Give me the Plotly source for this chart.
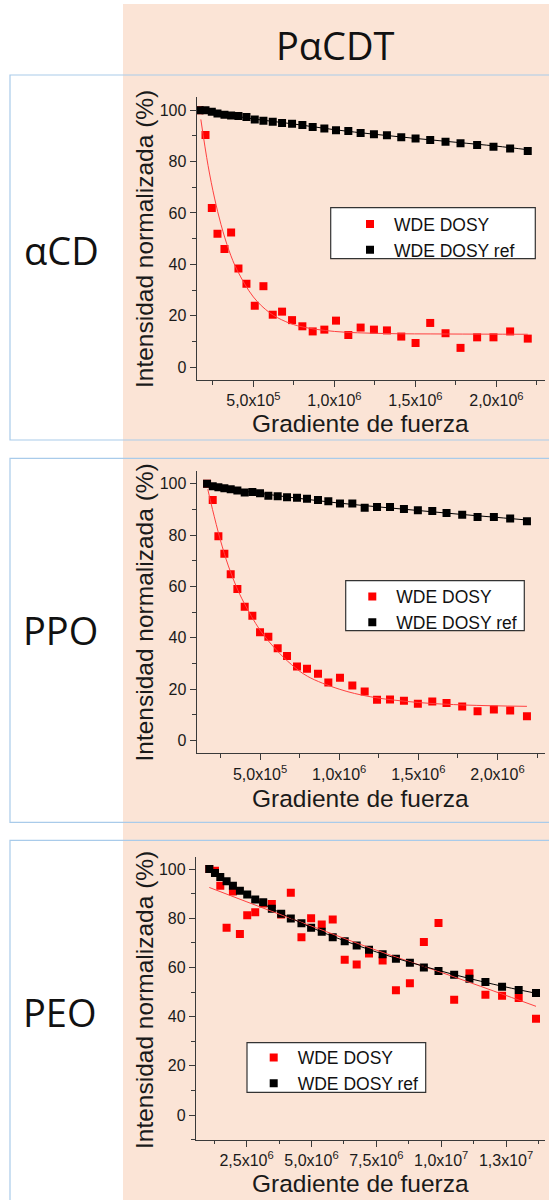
import plotly.graph_objects as go

# ---------------- DATA ----------------
panel_labels = ["αCD", "PPO", "PEO"]
main_title = "PαCDT"
series_names = ["WDE DOSY", "WDE DOSY ref"]
x_title = "Gradiente de fuerza"
y_title = "Intensidad normalizada (%)"

# Panel 1 (αCD)
x1 = [1.673e5, 2.043e5, 2.433e5, 2.783e5, 3.214e5, 3.625e5, 4.077e5, 4.571e5, 5.084e5, 5.619e5,
      6.194e5, 6.769e5, 7.386e5, 8.023e5, 8.660e5, 9.379e5, 1.0099e6, 1.0859e6, 1.1619e6, 1.2441e6,
      1.3243e6, 1.4127e6, 1.501e6, 1.5914e6, 1.686e6, 1.7785e6, 1.881e6, 1.982e6, 2.0847e6, 2.1936e6]
red1 = [100, 90.3, 61.9, 51.9, 46.0, 52.4, 38.4, 32.5, 23.9, 31.5,
        20.4, 21.6, 18.3, 15.9, 13.9, 14.6, 18.1, 12.5, 15.4, 14.6,
        14.3, 11.9, 9.4, 17.2, 13.2, 7.5, 11.6, 11.6, 13.9, 11.1]
black1 = [100, 100.0, 99.4, 98.7, 98.2, 97.9, 97.7, 97.3, 96.4, 95.9,
          95.5, 95.0, 94.7, 94.2, 93.4, 92.9, 92.2, 91.9, 91.1, 90.6,
          90.2, 89.5, 89.0, 88.4, 87.7, 87.1, 86.4, 85.8, 85.1, 84.1]
fit_red1_x = [1.755e5, 2.2e5, 2.6e5, 3.0e5, 3.5e5, 4.0e5, 5.0e5, 6.0e5, 7.0e5, 8.0e5, 1.0e6, 1.3e6, 1.7e6, 2.1936e6]
fit_red1_y = [96.4, 78.5, 65.8, 55.5, 45.3, 37.7, 27.3, 21.2, 17.7, 15.7, 13.9, 13.1, 12.9, 12.8]
fit_black1_x = [1.673e5, 3.0e5, 5.0e5, 7.5e5, 1.0e6, 1.25e6, 1.5e6, 1.75e6, 2.0e6, 2.1936e6]
fit_black1_y = [100.1, 98.6, 96.6, 94.6, 92.4, 90.6, 89.0, 87.5, 86.0, 84.6]

# Panel 2 (PPO)
x2 = [1.654e5, 2.012e5, 2.37e5, 2.748e5, 3.148e5, 3.569e5, 4.032e5, 4.516e5, 5.0e5, 5.526e5,
      6.115e5, 6.705e5, 7.336e5, 7.967e5, 8.662e5, 9.314e5, 1.005e6, 1.083e6, 1.161e6, 1.239e6,
      1.321e6, 1.409e6, 1.497e6, 1.588e6, 1.678e6, 1.777e6, 1.874e6, 1.977e6, 2.080e6, 2.186e6]
red2 = [100, 93.7, 79.6, 72.8, 64.8, 59.0, 52.1, 48.6, 42.2, 40.4,
        35.9, 32.9, 28.8, 27.9, 26.0, 22.6, 24.4, 21.4, 19.1, 15.9,
        16.0, 15.5, 14.3, 15.2, 14.6, 13.2, 11.4, 12.1, 11.7, 9.4]
black2 = [100, 99.1, 98.7, 98.3, 97.9, 97.4, 96.6, 96.8, 96.3, 95.4,
          95.2, 94.8, 94.6, 94.2, 93.7, 93.2, 92.3, 92.3, 90.7, 91.0,
          91.0, 90.2, 89.7, 89.4, 88.6, 88.0, 87.1, 87.1, 86.5, 85.4]
fit_red2_x = [1.7e5, 2.0e5, 2.5e5, 3.0e5, 3.5e5, 4.0e5, 5.0e5, 6.0e5, 7.0e5, 8.0e5, 1.0e6, 1.2e6, 1.5e6, 1.8e6, 2.186e6]
fit_red2_y = [97.9, 90.0, 78.0, 68.0, 60.0, 53.5, 43.0, 35.5, 29.5, 25.0, 20.0, 17.0, 14.8, 13.8, 13.3]
fit_black2_x = [1.654e5, 3.0e5, 5.0e5, 7.5e5, 1.0e6, 1.25e6, 1.5e6, 1.75e6, 2.0e6, 2.186e6]
fit_black2_y = [99.3, 98.0, 96.3, 94.3, 92.5, 91.0, 89.6, 88.2, 86.9, 85.9]

# Panel 3 (PEO)
x3 = [1.063e6, 1.281e6, 1.486e6, 1.729e6, 1.973e6, 2.242e6, 2.524e6, 2.832e6, 3.14e6, 3.473e6,
      3.832e6, 4.204e6, 4.614e6, 4.986e6, 5.396e6, 5.819e6, 6.281e6, 6.742e6, 7.217e6, 7.742e6,
      8.255e6, 8.793e6, 9.332e6, 9.896e6, 1.0499e7, 1.1088e7, 1.1704e7, 1.2345e7, 1.2986e7, 1.3653e7]
red3 = [100, 99.3, 93.2, 76.1, 90.9, 73.6, 81.2, 82.4, 86.0, 85.8,
        81.5, 90.3, 72.3, 80.0, 77.4, 79.5, 63.1, 61.2, 65.7, 62.8,
        50.7, 53.6, 70.3, 78.1, 46.9, 57.6, 48.9, 48.5, 47.6, 39.2]
black3 = [100, 98.4, 96.8, 95.0, 93.2, 91.2, 89.6, 87.6, 86.5, 83.8,
          81.8, 79.9, 78.0, 76.1, 74.5, 72.3, 70.6, 68.9, 67.2, 65.4,
          63.5, 61.9, 60.0, 58.6, 57.0, 55.4, 54.1, 52.2, 50.8, 49.6]
fit_red3_x = [1.063e6, 3.47e6, 5.0e6, 7.5e6, 1.0e7, 1.2e7, 1.3653e7]
fit_red3_y = [92.5, 82.8, 76.8, 67.0, 58.0, 50.5, 44.2]
fit_black3_x = [1.063e6, 2.5e6, 5.0e6, 7.5e6, 1.0e7, 1.2e7, 1.3653e7]
fit_black3_y = [99.8, 89.6, 76.2, 66.3, 58.5, 53.2, 49.5]

# Tick labels
xt12_vals = [5e5, 1.0e6, 1.5e6, 2.0e6]
xt12_text = ["5,0x10<sup>5</sup>", "1,0x10<sup>6</sup>", "1,5x10<sup>6</sup>", "2,0x10<sup>6</sup>"]
xt3_vals = [2.5e6, 5.0e6, 7.5e6, 1.0e7, 1.25e7]
xt3_text = ["2,5x10<sup>6</sup>", "5,0x10<sup>6</sup>", "7,5x10<sup>6</sup>", "1,0x10<sup>7</sup>", "1,3x10<sup>7</sup>"]
yt_vals = [0, 20, 40, 60, 80, 100]
yt_text = ["0", "20", "40", "60", "80", "100"]

# ---------------- LAYOUT HELPERS ----------------
W, H = 549, 1200
def px(x):
    return x / W
def py(y):
    return 1 - y / H

AX = "#3a3a3a"
TXT = "#1a1a1a"
FONT = "Liberation Sans, Arial, sans-serif"
RED = "#ff0000"
REDFIT = "#ff4040"
PEACH = "#fbe4d6"
BLUE = "#a9cbea"
LEGSIZE = 17.5

panels = [
    dict(x=x1, red=red1, black=black1, frx=fit_red1_x, fry=fit_red1_y, fbx=fit_black1_x, fby=fit_black1_y,
         plot=(196.7, 97.3, 545, 380), xr=[1.5e5, 2.3e6], yr=[-5, 105], tv=xt12_vals, tt=xt12_text, mdt=2.5e5,
         leg=(330.7, 207.7, 535.3, 258.7), legsym=(370, 222.7),
         xtitle=(360, 423.3), ytitle=(144, 239), lab=(61, 250), box=(10, 75, 560, 440)),
    dict(x=x2, red=red2, black=black2, frx=fit_red2_x, fry=fit_red2_y, fbx=fit_black2_x, fby=fit_black2_y,
         plot=(196.7, 471, 545, 753.3), xr=[1.0e5, 2.3e6], yr=[-5, 105], tv=xt12_vals, tt=xt12_text, mdt=2.5e5,
         leg=(345.7, 580.7, 524.3, 630.7), legsym=(372.3, 595),
         xtitle=(360, 798.3), ytitle=(144, 612.5), lab=(60, 630), box=(10, 458.3, 560, 822.3)),
    dict(x=x3, red=red3, black=black3, frx=fit_red3_x, fry=fit_red3_y, fbx=fit_black3_x, fby=fit_black3_y,
         plot=(196, 856.7, 545, 1139.7), xr=[5.5e5, 1.4e7], yr=[-10, 105], tv=xt3_vals, tt=xt3_text, mdt=1.25e6,
         leg=(247, 1042.7, 425.7, 1092.3), legsym=(273.7, 1056),
         xtitle=(360, 1183.3), ytitle=(144, 1000), lab=(60, 1012), box=(10, 840.3, 560, 1210)),
]

fig = go.Figure()
shapes = [dict(type="rect", xref="paper", yref="paper", x0=px(123), x1=px(549), y0=py(1200), y1=py(4),
               fillcolor=PEACH, line=dict(width=0), layer="below")]
annotations = [dict(text=main_title, x=px(335), y=py(45), xref="paper", yref="paper", showarrow=False,
                    xanchor="center", yanchor="middle", font=dict(family="Open Sans, sans-serif", size=38, color="#111"))]
layout_axes = {}
ITEMW = 38

for i, p in enumerate(panels):
    n = "" if i == 0 else str(i + 1)
    xa, ya = "x" + n, "y" + n
    legname = "legend" + n
    x0p, y0p, x1p, y1p = p["plot"]
    # data traces
    fig.add_trace(go.Scatter(x=p["x"], y=p["red"], mode="markers", name=series_names[0],
                             marker=dict(symbol="square", size=8, color=RED, line=dict(width=0)),
                             xaxis=xa, yaxis=ya, legend=legname))
    fig.add_trace(go.Scatter(x=p["x"], y=p["black"], mode="markers", name=series_names[1],
                             marker=dict(symbol="square", size=8, color="#000", line=dict(width=0)),
                             xaxis=xa, yaxis=ya, legend=legname))
    fig.add_trace(go.Scatter(x=p["frx"], y=p["fry"], mode="lines", line=dict(color=REDFIT, width=1, shape="spline"),
                             showlegend=False, xaxis=xa, yaxis=ya, hoverinfo="skip"))
    fig.add_trace(go.Scatter(x=p["fbx"], y=p["fby"], mode="lines", line=dict(color="#000", width=1, shape="spline"),
                             showlegend=False, xaxis=xa, yaxis=ya, hoverinfo="skip"))

    common = dict(showline=True, linecolor=AX, linewidth=1.3, ticks="outside", ticklen=6, tickwidth=1.3,
                  tickcolor=AX, showgrid=False, zeroline=False, fixedrange=True,
                  tickfont=dict(family=FONT, size=16, color=TXT))
    layout_axes["xaxis" + n] = dict(common, domain=[px(x0p), px(x1p)], range=p["xr"], anchor=ya,
                                    tickmode="array", tickvals=p["tv"], ticktext=p["tt"],
                                    minor=dict(tickmode="linear", tick0=0, dtick=p["mdt"], ticks="outside",
                                               ticklen=3.5, tickwidth=1.3, tickcolor=AX, showgrid=False))
    layout_axes["yaxis" + n] = dict(common, domain=[py(y1p), py(y0p)], range=p["yr"], anchor=xa,
                                    tickmode="array", tickvals=yt_vals, ticktext=yt_text,
                                    minor=dict(tickmode="linear", tick0=0, dtick=10, ticks="outside",
                                               ticklen=3.5, tickwidth=1.3, tickcolor=AX, showgrid=False))
    # panel box
    bx0, by0, bx1, by1 = p["box"]
    shapes.append(dict(type="rect", xref="paper", yref="paper", x0=px(bx0), x1=px(bx1), y0=py(by1), y1=py(by0),
                       line=dict(color=BLUE, width=1.2), fillcolor="rgba(0,0,0,0)", layer="below"))
    # legend frame
    lx0, ly0, lx1, ly1 = p["leg"]
    shapes.append(dict(type="rect", xref="paper", yref="paper", x0=px(lx0), x1=px(lx1), y0=py(ly1), y1=py(ly0),
                       line=dict(color="#333", width=1.2), fillcolor="white", layer="above"))
    sx, sy = p["legsym"]
    layout_axes[legname] = dict(x=px(sx - (ITEMW + 10) / 2), xanchor="left", y=py(sy - 16.5), yanchor="top",
                                bgcolor="rgba(0,0,0,0)", borderwidth=0, itemwidth=ITEMW,
                                font=dict(family=FONT, size=LEGSIZE, color="#111"), traceorder="normal",
                                tracegroupgap=0)
    # texts
    annotations.append(dict(text=panel_labels[i], x=px(p["lab"][0]), y=py(p["lab"][1]), xref="paper", yref="paper",
                            showarrow=False, xanchor="center", yanchor="middle",
                            font=dict(family="Open Sans, sans-serif", size=38, color="#111")))
    annotations.append(dict(text=x_title, x=px(p["xtitle"][0]), y=py(p["xtitle"][1]), xref="paper", yref="paper",
                            showarrow=False, xanchor="center", yanchor="middle",
                            font=dict(family=FONT, size=24.5, color=TXT)))
    annotations.append(dict(text=y_title, x=px(p["ytitle"][0]), y=py(p["ytitle"][1]), xref="paper", yref="paper",
                            showarrow=False, xanchor="center", yanchor="middle", textangle=-90,
                            font=dict(family=FONT, size=24.5, color=TXT)))

fig.update_layout(width=W, height=H, margin=dict(l=0, r=0, t=0, b=0), paper_bgcolor="white",
                  plot_bgcolor="rgba(0,0,0,0)", shapes=shapes, annotations=annotations, showlegend=True,
                  **layout_axes)

fig.write_html("out.html", config=dict(displayModeBar=False),
               post_script="document.body.style.margin='0';document.body.style.padding='0';")
